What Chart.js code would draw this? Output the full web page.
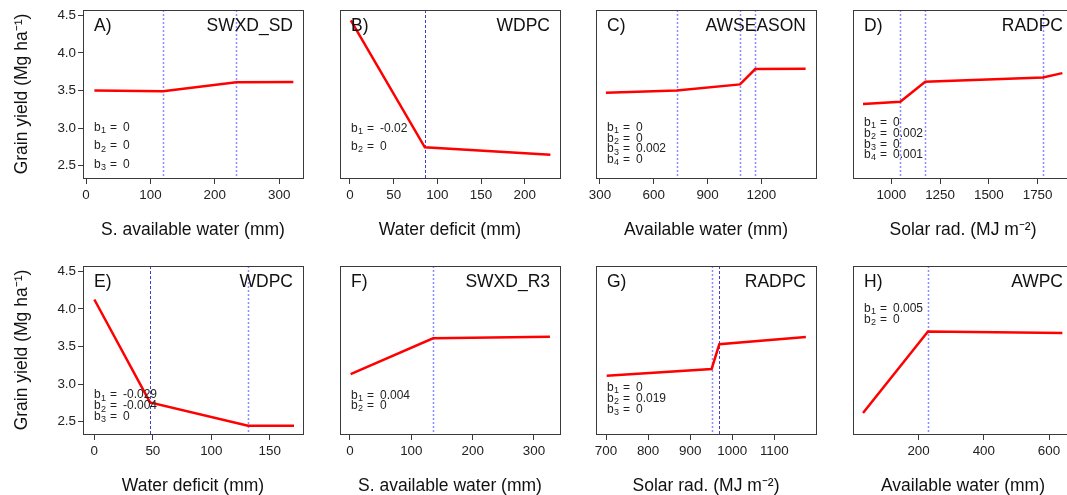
<!DOCTYPE html>
<html><head><meta charset="utf-8">
<script src="https://cdn.jsdelivr.net/npm/chart.js@4"></script>
<style>
html,body{margin:0;padding:0;background:#fff;overflow:hidden;width:1067px;height:495px;position:relative;}
canvas{position:absolute;}
</style></head><body>
<script>
// ---------- data ----------
const xA = [13, 119.6, 233.5, 322];
const yA = [3.50, 3.49, 3.61, 3.613];
const bpA = [119.6, 233.5];
const coefA = ['0', '0', '0'];
const ticksA = [0, 100, 200, 300];

const xB = [1, 85.7, 229.4];
const yB = [4.433, 2.744, 2.643];
const bpB = [85.7];
const coefB = ['-0.02', '0'];
const ticksB = [0, 50, 100, 150, 200];

const xC = [333, 728, 1081, 1166, 1447];
const yC = [3.469, 3.50, 3.58, 3.784, 3.79];
const bpC = [728, 1081, 1166];
const coefC = ['0', '0', '0.002', '0'];
const ticksC = [300, 600, 900, 1200];

const xD = [855, 1046, 1174, 1777, 1877];
const yD = [3.318, 3.349, 3.616, 3.673, 3.73];
const bpD = [1046, 1174, 1777];
const coefD = ['0', '0.002', '0', '0.001'];
const ticksD = [1000, 1250, 1500, 1750];

const xE = [0, 47.6, 131.4, 170.7];
const yE = [4.125, 2.756, 2.444, 2.444];
const bpE = [47.6, 131.4];
const coefE = ['-0.029', '-0.004', '0'];
const ticksE = [0, 50, 100, 150];

const xF = [1, 135.4, 326];
const yF = [3.132, 3.609, 3.63];
const bpF = [135.4];
const coefF = ['0.004', '0'];
const ticksF = [0, 100, 200, 300];

const xG = [701.6, 951, 969.3, 1175];
const yG = [3.109, 3.20, 3.53, 3.625];
const bpG = [951, 969.3];
const coefG = ['0', '0.019', '0'];
const ticksG = [700, 800, 900, 1000, 1100];

const xH = [29.5, 228.8, 641];
const yH = [2.615, 3.70, 3.678];
const bpH = [228.8];
const coefH = ['0.005', '0'];
const ticksH = [200, 400, 600];

const yTicks = [2.5, 3.0, 3.5, 4.0, 4.5];
const yTitle = 'Grain yield (Mg ha\u207B\u00B9)';

// ---------- panel layout / styling ----------
const FONT = '"Liberation Sans", Arial, Helvetica, sans-serif';
const panels = [
  {id:'A', name:'SWXD_SD', x:xA, y:yA, bp:bpA, bpDark:[false,false], coef:coefA, ticks:ticksA, xmin:-4.7, xmax:337, title:'S. available water (mm)', left:0, top:0, yaxis:true, coefY:[117.7,136,154.3]},
  {id:'B', name:'WDPC', x:xB, y:yB, bp:bpB, bpDark:[true], coef:coefB, ticks:ticksB, xmin:-11.4, xmax:240.4, title:'Water deficit (mm)', left:257, top:0, yaxis:false, coefY:[118.3,136.7]},
  {id:'C', name:'AWSEASON', x:xC, y:yC, bp:bpC, bpDark:[false,false,false], coef:coefC, ticks:ticksC, xmin:277.7, xmax:1505, title:'Available water (mm)', left:513, top:0, yaxis:false, coefY:[117.3,128.2,139.1,150]},
  {id:'D', name:'RADPC', x:xD, y:yD, bp:bpD, bpDark:[false,false,false], coef:coefD, ticks:ticksD, xmin:803.7, xmax:1931.5, title:'Solar rad. (MJ m\u207B\u00B2)', left:770, top:0, yaxis:false, coefY:[112.7,123.5,134.2,145]},
  {id:'E', name:'WDPC', x:xE, y:yE, bp:bpE, bpDark:[true,false], coef:coefE, ticks:ticksE, xmin:-9.7, xmax:178.4, title:'Water deficit (mm)', left:0, top:256, yaxis:true, coefY:[129,140,150.7]},
  {id:'F', name:'SWXD_R3', x:xF, y:yF, bp:bpF, bpDark:[false], coef:coefF, ticks:ticksF, xmin:-16.3, xmax:342.4, title:'S. available water (mm)', left:257, top:256, yaxis:false, coefY:[129.7,139.7]},
  {id:'G', name:'RADPC', x:xG, y:yG, bp:bpG, bpDark:[false,true], coef:coefG, ticks:ticksG, xmin:676.2, xmax:1199.1, title:'Solar rad. (MJ m\u207B\u00B2)', left:513, top:256, yaxis:false, coefY:[122,133,144]},
  {id:'H', name:'AWPC', x:xH, y:yH, bp:bpH, bpDark:[false], coef:coefH, ticks:ticksH, xmin:-1.2, xmax:673.6, title:'Available water (mm)', left:770, top:256, yaxis:false, coefY:[42.3,54]}
];

const panelPlugin = {
  id: 'panelDecor',
  beforeDatasetsDraw(chart) {
    const p = chart.options.plugins.panelDecor.panel;
    const {ctx, chartArea: a, scales: {x}} = chart;
    ctx.save();
    p.bp.forEach((v, i) => {
      const px = Math.round(x.getPixelForValue(v)) + 0.5;
      ctx.beginPath();
      if (p.bpDark[i]) { ctx.strokeStyle = 'rgba(40,40,210,0.9)'; ctx.lineWidth = 1; ctx.setLineDash([3, 2]); }
      else { ctx.strokeStyle = 'rgba(120,120,255,0.85)'; ctx.lineWidth = 1.5; ctx.setLineDash([2, 2]); }
      ctx.moveTo(px, a.top); ctx.lineTo(px, a.bottom); ctx.stroke();
    });
    ctx.restore();
  },
  afterDraw(chart) {
    const p = chart.options.plugins.panelDecor.panel;
    const {ctx, chartArea: a} = chart;
    ctx.save();
    ctx.strokeStyle = '#3a3a3a'; ctx.lineWidth = 1; ctx.setLineDash([]);
    ctx.strokeRect(Math.round(a.left) + 0.5, Math.round(a.top) + 0.5, Math.round(a.right - a.left), Math.round(a.bottom - a.top));
    ctx.fillStyle = '#111';
    ctx.textBaseline = 'middle';
    ctx.font = '17.5px ' + FONT;
    ctx.textAlign = 'left';
    ctx.fillText(p.id + ')', a.left + 11, a.top + 16);
    ctx.textAlign = 'right';
    ctx.fillText(p.name, a.right - 10, a.top + 16);
    ctx.textAlign = 'left';
    ctx.fillStyle = '#222';
    p.coef.forEach((c, i) => {
      const tx = a.left + 11, ty = a.top + p.coefY[i];
      ctx.font = '12px ' + FONT; ctx.fillText('b', tx, ty);
      ctx.font = '9px ' + FONT; ctx.fillText(String(i + 1), tx + 7, ty + 3);
      ctx.font = '12px ' + FONT; ctx.fillText('=', tx + 16, ty); ctx.fillText(c, tx + 29, ty);
    });
    ctx.restore();
  }
};

panels.forEach(p => {
  const cv = document.createElement('canvas');
  cv.width = 310; cv.height = 248;
  cv.style.left = p.left + 'px'; cv.style.top = p.top + 'px';
  cv.style.width = '310px'; cv.style.height = '248px';
  document.body.appendChild(cv);
  new Chart(cv, {
    type: 'scatter',
    data: { datasets: [{
      data: p.x.map((v, i) => ({x: v, y: p.y[i]})),
      showLine: true, borderColor: '#ff0000', borderWidth: 2.5, pointRadius: 0, tension: 0, fill: false
    }]},
    options: {
      responsive: false, animation: false, devicePixelRatio: 1,
      layout: { padding: { left: 0, top: 10, right: 7, bottom: 0 } },
      plugins: { legend: {display: false}, tooltip: {enabled: false}, panelDecor: {panel: p} },
      scales: {
        x: {
          type: 'linear', min: p.xmin, max: p.xmax,
          afterBuildTicks: s => { s.ticks = p.ticks.map(v => ({value: v})); },
          afterFit: s => { s.height = 70; },
          ticks: { autoSkip: false, maxRotation: 0, color: '#222', padding: 3, font: {family: FONT, size: 13.4}, callback: v => String(v) },
          grid: { display: true, drawOnChartArea: false, drawTicks: true, tickLength: 6, color: '#3a3a3a', lineWidth: 1 },
          border: { display: false },
          title: { display: true, text: p.title, color: '#111', font: {family: FONT, size: 17.5}, padding: {top: 0, bottom: 7} }
        },
        y: {
          type: 'linear', min: 2.335, max: 4.57,
          afterBuildTicks: s => { s.ticks = yTicks.map(v => ({value: v})); },
          afterFit: s => { s.width = 83; },
          ticks: { display: p.yaxis, color: '#222', padding: 2, font: {family: FONT, size: 13.4}, callback: v => v.toFixed(1) },
          grid: { display: p.yaxis, drawOnChartArea: false, drawTicks: true, tickLength: 5, color: '#3a3a3a', lineWidth: 1 },
          border: { display: false },
          title: { display: p.yaxis, text: yTitle, color: '#111', font: {family: FONT, size: 17.5}, padding: {top: 12, bottom: 0} }
        }
      }
    },
    plugins: [panelPlugin]
  });
});
</script>
</body></html>
